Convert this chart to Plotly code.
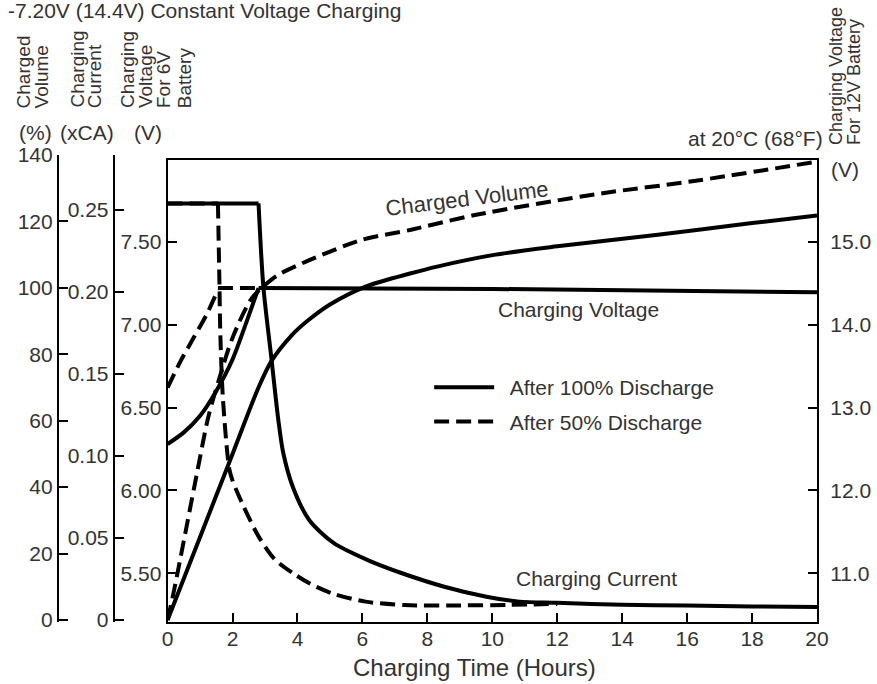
import plotly.graph_objects as go

W, H = 877, 684
MT, MB = 140, 62
PH = H - MT - MB


def px(x):
    return x / W


def py(y):
    return (H - MB - y) / PH


# ---------------- data ----------------
hours_ticks = [0, 2, 4, 6, 8, 10, 12, 14, 16, 18, 20]

# Charging current (xCA)
t_cur100_flat = [0, 2.8]
i_cur100_flat = [0.254, 0.254]
t_cur100 = [2.80, 2.95, 3.20, 3.41, 3.56, 3.86, 4.36, 5.11, 6.11, 7.22, 8.52, 9.82, 10.83, 12, 14, 16, 18, 20]
i_cur100 = [0.254, 0.203, 0.159, 0.122, 0.102, 0.081, 0.061, 0.047, 0.037, 0.0285, 0.0203, 0.0142, 0.0112,
            0.0105, 0.0093, 0.0088, 0.0083, 0.0079]
t_cur50_flat = [0, 1.55]
i_cur50_flat = [0.254, 0.254]
t_cur50 = [1.55, 1.60, 1.62, 1.70, 1.90, 2.00, 2.30, 2.80, 3.30, 3.90, 4.40, 5.10, 6.10, 7.30, 9.0, 10.5, 12.0]
i_cur50 = [0.254, 0.201, 0.177, 0.136, 0.092, 0.085, 0.071, 0.051, 0.037, 0.028, 0.022, 0.016, 0.0112,
           0.0091, 0.0089, 0.0092, 0.0098]

# Charged volume (%)
t_cv100 = [0, 1.0, 2.0, 2.8, 3.2, 3.8, 4.3, 5.0, 6.1, 7.5, 8.3, 10.1, 12, 15.1, 18, 20]
cv100 = [0, 25, 50, 70, 78, 85.5, 90, 95, 100.4, 104.4, 106.4, 110, 112.5, 116, 119.5, 121.8]
t_cv50 = [0, 0.2, 0.9, 1.25, 1.6, 2.0, 2.6, 3.2, 3.5, 4.4, 6.0, 7.5, 9.5, 13.4, 16.1, 20]
cv50 = [0, 9, 44, 61, 73, 85, 97, 102.5, 104.4, 108.5, 114.5, 117.5, 122, 128.5, 132, 138]

# Charging voltage for 6V battery (V)
t_v100_rise = [0, 0.5, 1.0, 1.5, 2.0, 2.4, 2.8]
v100_rise = [6.28, 6.35, 6.45, 6.60, 6.79, 7.00, 7.22]
t_v100_flat = [2.8, 10, 20]
v100_flat = [7.22, 7.215, 7.195]
t_v50_rise = [0, 0.4, 0.8, 1.2, 1.55]
v50_rise = [6.62, 6.78, 6.92, 7.06, 7.21]
t_v50_flat = [1.55, 2.8]
v50_flat = [7.22, 7.22]

# axis ticks
v6_ticks = [5.5, 6.0, 6.5, 7.0, 7.5]
v12_ticks = [11.0, 12.0, 13.0, 14.0, 15.0]
pct_ticks = [0, 20, 40, 60, 80, 100, 120, 140]
ca_ticks = [0, 0.05, 0.10, 0.15, 0.20, 0.25]
ca_labels = ["0", "0.05", "0.10", "0.15", "0.20", "0.25"]

# ---------------- figure ----------------
FONT = "Liberation Sans, Arial, sans-serif"
TXT = "#333333"
LW = 4
DASH = "15px,7px"

fig = go.Figure()


def add(x, y, axis, dash, shape="spline", name=None, show=False, group=None, rank=None):
    fig.add_trace(go.Scatter(
        x=x, y=y, yaxis=axis, mode="lines", name=name, showlegend=show,
        legendgroup=group, legendrank=rank if rank else 1000,
        line=dict(color="black", width=LW, dash=dash, shape=shape, smoothing=0.8),
        hoverinfo="skip"))


# dashed (after 50%) first, solid on top
add(t_cur50_flat, i_cur50_flat, "y4", DASH, "linear")
add(t_cur50, i_cur50, "y4", DASH)
add(t_cv50, cv50, "y3", DASH)
add(t_v50_rise, v50_rise, "y", DASH, name="  After 50% Discharge", show=True, group="b", rank=2)
add(t_v50_flat, v50_flat, "y", DASH, "linear")

add(t_cur100_flat, i_cur100_flat, "y4", "solid", "linear")
add(t_cur100, i_cur100, "y4", "solid")
add(t_cv100, cv100, "y3", "solid")
add(t_v100_rise, v100_rise, "y", "solid", name="  After 100% Discharge", show=True, group="a", rank=1)
add(t_v100_flat, v100_flat, "y", "solid", "linear")

v_lo = 5.5 - (622 - 573.3) / 165.8
v_hi = v_lo + 462 / 165.8
dom_main = [0, 462 / PH]
dom_left = [0, 467 / PH]

tickfont = dict(family=FONT, size=21, color=TXT)
axis_common = dict(showgrid=False, zeroline=False, showline=True, linecolor="black", linewidth=2,
                   ticks="inside", ticklen=9, tickwidth=2, tickcolor="black", tickfont=tickfont)

fig.update_layout(
    width=W, height=H,
    margin=dict(l=0, r=0, t=MT, b=MB),
    paper_bgcolor="white", plot_bgcolor="rgba(0,0,0,0)",
    font=dict(family=FONT, color=TXT),
    xaxis=dict(domain=[165 / W, 828 / W], range=[0, 20], tickvals=hours_ticks, mirror=True,
               anchor="y", ticklabelstandoff=-3, **axis_common),
    yaxis=dict(domain=dom_main, range=[v_lo, v_hi], tickvals=v6_ticks, tickformat=".2f",
               anchor="x", **axis_common),
    yaxis2=dict(domain=dom_main, range=[2 * v_lo, 2 * v_hi], tickvals=v12_ticks, tickformat=".1f",
                overlaying="y", side="right", anchor="x", ticklabelstandoff=7, **axis_common),
    yaxis3=dict(domain=dom_left, range=[-2 / 3.3214, 465 / 3.3214], tickvals=pct_ticks,
                anchor="free", position=53 / W, side="left", **axis_common),
    yaxis4=dict(domain=dom_left, range=[-2 / 1640, 465 / 1640], tickvals=ca_ticks, ticktext=ca_labels,
                anchor="free", position=110 / W, side="left", **axis_common),
    legend=dict(x=px(432), y=py(367), xanchor="left", yanchor="top", bgcolor="rgba(0,0,0,0)",
                font=dict(family=FONT, size=21, color=TXT), tracegroupgap=4, itemwidth=60,
                traceorder="grouped"),
    showlegend=True,
)
# empty trace so the 12V axis is drawn
fig.add_trace(go.Scatter(x=[None], y=[None], yaxis="y2", showlegend=False, hoverinfo="skip"))

ann = []


def text(s, x, y, size=21, xa="center", ya="middle", angle=0):
    ann.append(dict(text=s, x=px(x), y=py(y), xref="paper", yref="paper", xanchor=xa, yanchor=ya,
                    showarrow=False, textangle=angle, font=dict(family=FONT, size=size, color=TXT)))


text("-7.20V (14.4V) Constant Voltage Charging", 0, 10, size=21, xa="left")
# rotated axis headers
for s, xc in [("Charged", 18.3), ("Volume", 36.7), ("Charging", 72.5), ("Current", 90),
              ("Charging", 124), ("Voltage", 142.5), ("For 6V", 160.8), ("Battery", 182.5)]:
    text(s, xc, 110, size=19, ya="bottom", angle=-90)
for s, xc in [("Charging Voltage", 847.5), ("For 12V Battery", 865.8)]:
    text(s, xc, 147, size=18, ya="bottom", angle=-90)
text("(%)", 30, 132)
text("(xCA)", 82.5, 132)
text("(V)", 144.5, 132)
text("(V)", 856.7, 169)
text("at 20°C (68°F)", 836, 138, xa="right")
text("Charged Volume", 471, 198, size=22, angle=-7)
text("Charging Voltage", 585, 309)
text("Charging Current", 603, 578)
text("Charging Time (Hours)", 478.5, 667, size=24)

fig.update_layout(annotations=ann)
fig.write_html("out.html")
